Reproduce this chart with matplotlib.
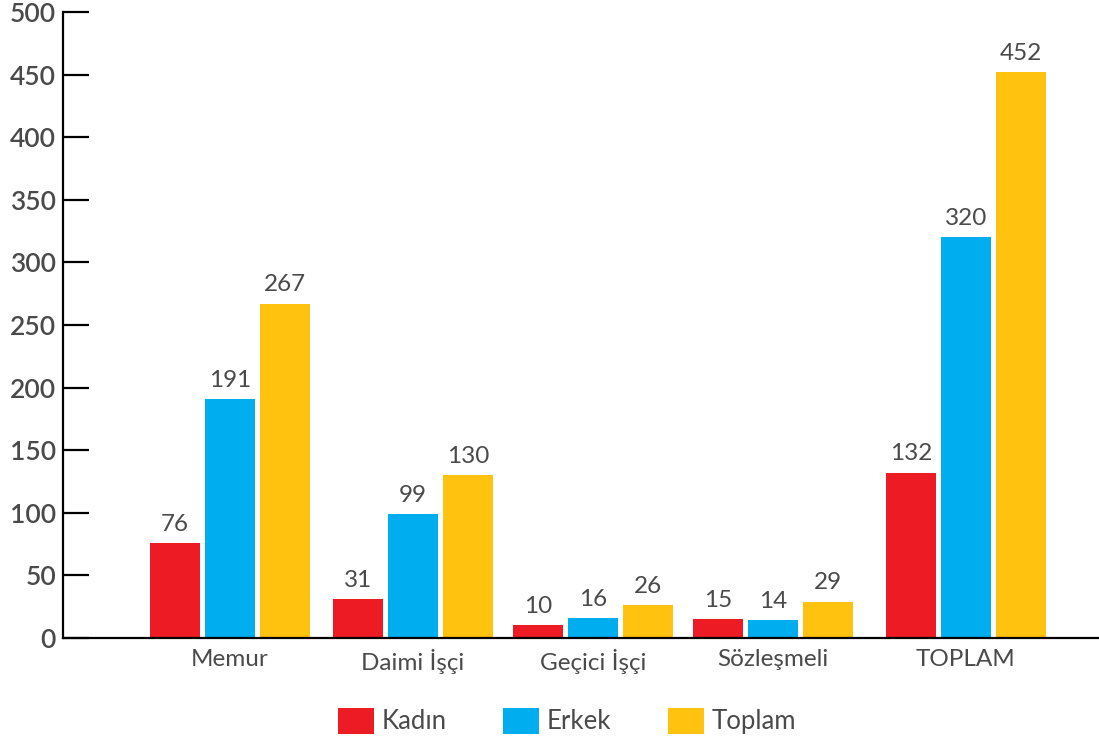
import matplotlib
matplotlib.use("Agg")
import matplotlib.pyplot as plt
import numpy as np

categories = ["Memur", "Daimi İşçi", "Geçici İşçi", "Sözleşmeli", "TOPLAM"]
kadin = [76, 31, 10, 15, 132]
erkek = [191, 99, 16, 14, 320]
toplam = [267, 130, 26, 29, 452]
series_names = ["Kadın", "Erkek", "Toplam"]
colors = ["#ED1C24", "#00AEEF", "#FFC20E"]
yticks = list(range(0, 501, 50))

# layout (pixel-like units on x axis)
group_x = np.array([230, 413, 593, 773, 966])
bar_w = 50
step = 55

plt.rcParams['font.family'] = ['Lato', 'DejaVu Sans']
txt = "#4a4a4a"

fig = plt.figure(figsize=(10.99, 7.38), dpi=100)
ax = fig.add_axes([63/1099, 1-638/738, 1-63/1099, (638-12)/738])

for i, (vals, c, name) in enumerate(zip([kadin, erkek, toplam], colors, series_names)):
    xs = group_x + (i-1)*step
    ax.bar(xs, vals, width=bar_w, color=c, label=name)
    for x, v in zip(xs, vals):
        ax.annotate(str(v), (x, v), xytext=(0, 6), textcoords="offset points",
                    ha="center", va="bottom", fontsize=17.5, color=txt)

ax.set_xlim(63, 1099)
ax.set_ylim(0, 500)
ax.set_yticks(yticks)
ax.set_xticks(group_x)
ax.set_xticklabels(categories, fontsize=17.5, color=txt)
ax.tick_params(axis='x', length=0, pad=8)
ax.tick_params(axis='y', direction='in', length=19, width=1.6, pad=5, labelsize=19, labelcolor=txt)
for lab in ax.get_yticklabels():
    lab.set_fontweight('semibold')
for s in ['top', 'right']:
    ax.spines[s].set_visible(False)
for s in ['left', 'bottom']:
    ax.spines[s].set_linewidth(1.6)
    ax.spines[s].set_color('black')

leg = fig.legend(loc='center', bbox_to_anchor=(567/1099, 1-721/738), ncol=3, frameon=False,
                 fontsize=18.5, handlelength=1.4, handleheight=1.2, handletextpad=0.3,
                 columnspacing=2.2, labelcolor=txt)

fig.savefig("out.png", dpi=100)
